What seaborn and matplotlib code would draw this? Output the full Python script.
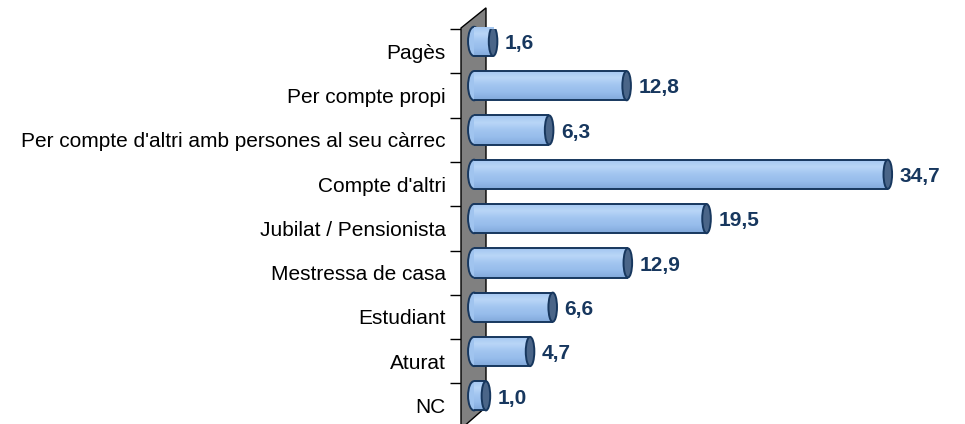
import numpy as np
import pandas as pd
import matplotlib
matplotlib.use("Agg")
import matplotlib.pyplot as plt
import seaborn as sns
from matplotlib.patches import Polygon, Ellipse
from matplotlib.colors import LinearSegmentedColormap

categories = ["Pagès", "Per compte propi", "Per compte d'altri amb persones al seu càrrec",
              "Compte d'altri", "Jubilat / Pensionista", "Mestressa de casa",
              "Estudiant", "Aturat", "NC"]
values = [1.6, 12.8, 6.3, 34.7, 19.5, 12.9, 6.6, 4.7, 1.0]
value_labels = ["1,6", "12,8", "6,3", "34,7", "19,5", "12,9", "6,6", "4,7", "1,0"]

sns.set_theme(style="white")
plt.rcParams['font.family'] = ['Liberation Sans', 'DejaVu Sans']

W, H = 965, 424
fig = plt.figure(figsize=(W / 100, H / 100), dpi=100)
ax_left = 474 / W
ax_w = 477 / W
ax_top = (H - 29) / H
ax_bot = (H - 427.7) / H
ax = fig.add_axes([ax_left, ax_bot, ax_w, ax_top - ax_bot])

df = pd.DataFrame({"cat": categories, "val": values})
bar_h = 0.66
shift = 0.22
navy = "#17375E"
sns.barplot(data=df, x="val", y="cat", orient="h", color="#9DC3EF",
            width=bar_h, edgecolor="none", linewidth=0, ax=ax, zorder=3,
            saturation=1)

ax.set_xlim(0, 40)
ax.set_ylim(len(categories) - 0.5, -0.5)

cmap = LinearSegmentedColormap.from_list(
    "cyl", ["#A3C6F0", "#B9D6F7", "#A2C5F0", "#96BCEB", "#82A9DB"])
grad = np.linspace(0, 1, 64).reshape(-1, 1)

for i, p in enumerate(ax.patches):
    p.set_y(p.get_y() - shift)
    x0, y0, w, h = p.get_x(), p.get_y(), p.get_width(), p.get_height()
    yc = y0 + h / 2
    # left rounded end
    le = Ellipse((x0, yc), 1.0, h, facecolor="#A0C4EF", edgecolor=navy,
                 linewidth=1.4, zorder=2.5, clip_on=False)
    ax.add_patch(le)
    im = ax.imshow(grad, extent=(x0, x0 + w, y0 + h, y0), cmap=cmap, aspect="auto",
                   zorder=3.1, interpolation="bilinear")
    im.set_clip_path(p)
    ax.plot([x0, x0 + w], [y0, y0], color=navy, lw=1.4, zorder=3.3, solid_capstyle="butt")
    ax.plot([x0, x0 + w], [y0 + h, y0 + h], color=navy, lw=1.4, zorder=3.3, solid_capstyle="butt")
    cap = Ellipse((x0 + w, yc), 0.72, h, facecolor="#4A6588", edgecolor=navy,
                  linewidth=1.4, zorder=4)
    ax.add_patch(cap)
    ax.text(x0 + w + 1.0, yc + 0.05, value_labels[i], ha="left", va="center",
            fontsize=15, fontweight="bold", color="#17375E", zorder=5)

ax.set_xlabel("")
ax.set_ylabel("")
ax.set_xticks([])
for s in ["top", "right", "bottom"]:
    ax.spines[s].set_visible(False)
ax.spines["left"].set_position(("outward", 13 * 0.72))
ax.spines["left"].set_visible(False)

ax.set_yticks(range(len(categories)))
ax.set_yticklabels(categories)
ax.set_yticks(np.arange(-0.5, len(categories) + 0.5, 1), minor=True)
ax.tick_params(axis="y", which="major", length=0, pad=11, labelsize=15, labelcolor="black")
ax.tick_params(axis="y", which="minor", length=8, width=1, color="black", left=True)

# gray back wall (3D)
wall = Polygon([(-13 / 477, 1.0025), (12 / 477, 1.053), (12 / 477, 0.052), (-13 / 477, -0.003)],
               closed=True, transform=ax.transAxes, facecolor="#808080", edgecolor="black",
               linewidth=1, zorder=1, clip_on=False)
ax.add_patch(wall)

fig.savefig("out.png", dpi=100)
